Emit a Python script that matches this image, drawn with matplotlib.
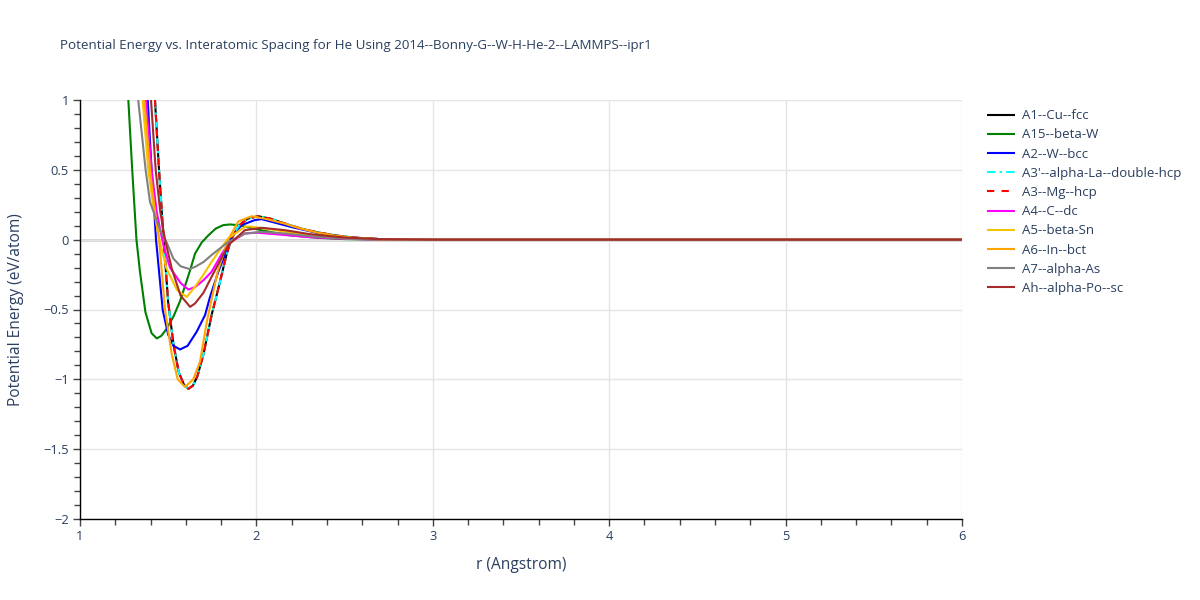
import matplotlib
matplotlib.use("Agg")
import matplotlib.pyplot as plt
from matplotlib.ticker import MultipleLocator

plt.rcParams['font.family'] = ['Open Sans', 'DejaVu Sans']

title = "Potential Energy vs. Interatomic Spacing for He Using 2014--Bonny-G--W-H-He-2--LAMMPS--ipr1"
xlabel = "r (Angstrom)"
ylabel = "Potential Energy (eV/atom)"

labels = ["A1--Cu--fcc", "A15--beta-W", "A2--W--bcc", "A3'--alpha-La--double-hcp",
          "A3--Mg--hcp", "A4--C--dc", "A5--beta-Sn", "A6--In--bct", "A7--alpha-As",
          "Ah--alpha-Po--sc"]

# values
r_a1 = [1.425, 1.448, 1.474, 1.50, 1.53, 1.56, 1.59, 1.615, 1.64, 1.665, 1.70, 1.746,
        1.788, 1.83, 1.856, 1.90, 1.95, 2.01, 2.08, 2.16, 2.25, 2.34, 2.45, 2.55, 2.7, 3.0, 6.0]
e_a1 = [1.0, 0.5, 0.0, -0.45, -0.75, -0.95, -1.04, -1.068, -1.045, -0.98, -0.82, -0.54,
        -0.33, -0.11, 0.0, 0.10, 0.15, 0.168, 0.15, 0.116, 0.08, 0.054, 0.03, 0.015, 0.004, 0.0, 0.0]

r_a15 = [1.274, 1.296, 1.32, 1.34, 1.371, 1.406, 1.435, 1.46, 1.49, 1.53, 1.567, 1.624, 1.652,
         1.69, 1.727, 1.77, 1.812, 1.85, 1.888, 1.93, 2.0, 2.1, 2.2, 2.35, 2.5, 2.7, 3.0, 6.0]
e_a15 = [1.0, 0.5, 0.0, -0.23, -0.52, -0.67, -0.707, -0.69, -0.64, -0.55, -0.44, -0.22, -0.10,
         -0.02, 0.03, 0.08, 0.104, 0.109, 0.105, 0.095, 0.075, 0.05, 0.03, 0.013, 0.004, 0.0, 0.0, 0.0]

r_a2 = [1.384, 1.406, 1.431, 1.469, 1.50, 1.53, 1.567, 1.61, 1.661, 1.709, 1.737, 1.784, 1.84,
        1.85, 1.916, 1.99, 2.03, 2.08, 2.2, 2.36, 2.5, 2.7, 3.0, 6.0]
e_a2 = [1.0, 0.5, 0.0, -0.505, -0.68, -0.76, -0.786, -0.76, -0.66, -0.54, -0.41, -0.23, -0.05,
        0.0, 0.104, 0.14, 0.147, 0.13, 0.09, 0.044, 0.018, 0.004, 0.0, 0.0]

r_a5 = [1.355, 1.387, 1.42, 1.45, 1.49, 1.55, 1.605, 1.652, 1.70, 1.746, 1.80, 1.84, 1.935,
        1.96, 2.1, 2.3, 2.5, 2.7, 3.0, 6.0]
e_a5 = [1.0, 0.5, 0.2, 0.0, -0.206, -0.36, -0.41, -0.338, -0.25, -0.159, -0.06, 0.009, 0.092,
        0.095, 0.07, 0.03, 0.01, 0.002, 0.0, 0.0]

r_a4 = [1.374, 1.406, 1.435, 1.458, 1.475, 1.51, 1.57, 1.614, 1.652, 1.70, 1.746, 1.80, 1.84,
        1.935, 2.0, 2.1, 2.3, 2.5, 2.7, 3.0, 6.0]
e_a4 = [1.0, 0.5, 0.2, 0.05, -0.05, -0.2, -0.31, -0.357, -0.34, -0.29, -0.23, -0.11, -0.027,
        0.044, 0.05, 0.04, 0.018, 0.006, 0.001, 0.0, 0.0]

r_a6 = [1.3645, 1.397, 1.425, 1.448, 1.482, 1.52, 1.554, 1.595, 1.642, 1.68, 1.72, 1.78, 1.84,
        1.897, 1.973, 2.05, 2.16, 2.25, 2.34, 2.45, 2.55, 2.7, 3.0, 6.0]
e_a6 = [1.0, 0.5, 0.2, 0.0, -0.5, -0.82, -1.0, -1.054, -1.0, -0.875, -0.58, -0.23, 0.0,
        0.13, 0.168, 0.15, 0.115, 0.08, 0.052, 0.028, 0.014, 0.004, 0.0, 0.0]

r_a7 = [1.330, 1.372, 1.397, 1.454, 1.49, 1.529, 1.57, 1.62, 1.652, 1.70, 1.746, 1.84, 1.935,
        2.03, 2.162, 2.3, 2.5, 2.7, 3.0, 6.0]
e_a7 = [1.0, 0.5, 0.27, 0.068, -0.016, -0.135, -0.19, -0.21, -0.195, -0.16, -0.11, -0.016, 0.044,
        0.056, 0.044, 0.025, 0.008, 0.002, 0.0, 0.0]

r_ah = [1.4025, 1.429, 1.455, 1.482, 1.52, 1.57, 1.624, 1.652, 1.70, 1.746, 1.84, 1.935, 2.03,
        2.162, 2.3, 2.5, 2.7, 3.0, 6.0]
e_ah = [1.0, 0.5, 0.2, 0.0, -0.206, -0.40, -0.481, -0.457, -0.38, -0.266, -0.04, 0.068, 0.085,
        0.068, 0.04, 0.015, 0.004, 0.0, 0.0]

series = [
    (r_a1, e_a1, '#000000', '-'),
    (r_a15, e_a15, '#008000', '-'),
    (r_a2, e_a2, '#0000ff', '-'),
    (r_a1, e_a1, '#00ffff', (0, (4, 2, 1.2, 2))),
    (r_a1, e_a1, '#ff0000', (0, (3.5, 3.5))),
    (r_a4, e_a4, '#ff00ff', '-'),
    (r_a5, e_a5, '#f5c400', '-'),
    (r_a6, e_a6, '#ffa500', '-'),
    (r_a7, e_a7, '#808080', '-'),
    (r_ah, e_ah, '#a52a2a', '-'),
]

text_color = '#2a3f5f'

fig = plt.figure(figsize=(12, 6), dpi=100)
ax = fig.add_axes([80/1200, 1-519/600, (962-80)/1200, (519-100)/600])

for (r, e, c, ls), lab in zip(series, labels):
    ax.plot(r, e, color=c, linestyle=ls, linewidth=1.5, label=lab, solid_capstyle='butt')

ax.set_xlim(1, 6)
ax.set_ylim(-2, 1)
ax.xaxis.set_major_locator(MultipleLocator(1))
ax.xaxis.set_minor_locator(MultipleLocator(0.2))
ax.yaxis.set_major_locator(MultipleLocator(0.5))
ax.yaxis.set_minor_locator(MultipleLocator(0.1))

ax.grid(True, which='major', color='#e5e5e5', linewidth=1)
ax.set_axisbelow(True)
ax.axhline(0, color='#c8c8c8', linewidth=1.8, zorder=0.5)

for s in ['top', 'right']:
    ax.spines[s].set_visible(False)
for s in ['left', 'bottom']:
    ax.spines[s].set_color('black')
    ax.spines[s].set_linewidth(1)

ax.tick_params(axis='both', which='major', length=5, width=1, color='#444444',
               labelsize=9.3, labelcolor=text_color, pad=3)
ax.tick_params(axis='both', which='minor', length=4, width=1, color='#444444')

ax.set_yticks([1, 0.5, 0, -0.5, -1, -1.5, -2])
ax.set_yticklabels(['1', '0.5', '0', '\u22120.5', '\u22121', '\u22121.5', '\u22122'])

ax.set_xlabel(xlabel, fontsize=11.2, color=text_color, labelpad=10)
ax.set_ylabel(ylabel, fontsize=11.2, color=text_color, labelpad=14)

fig.text(60/1200, 1-45/600, title, fontsize=9.6, color=text_color, ha='left', va='center')

leg = ax.legend(loc='upper left', bbox_to_anchor=(982/1200, 1-104/600),
                bbox_transform=fig.transFigure, frameon=False, fontsize=9.5,
                handlelength=2.1, handletextpad=0.5, labelspacing=0.47, borderaxespad=0)
for t in leg.get_texts():
    t.set_color(text_color)

fig.savefig('out.png', dpi=100)
